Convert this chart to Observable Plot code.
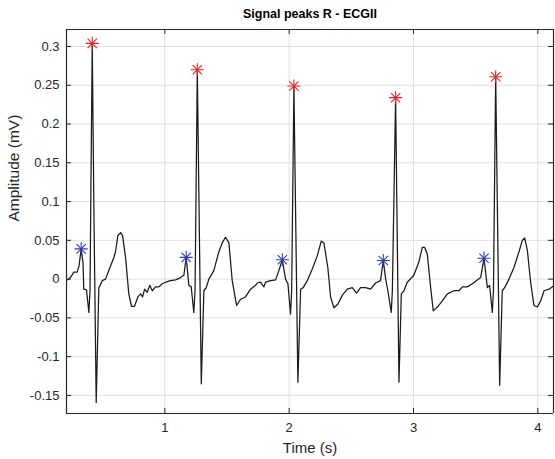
<!DOCTYPE html>
<html><head><meta charset="utf-8">
<script src="https://cdn.jsdelivr.net/npm/d3@7"></script>
<script src="https://cdn.jsdelivr.net/npm/@observablehq/plot@0.6"></script>
<style>html,body{margin:0;padding:0;background:#fff;overflow:hidden}#chart svg{display:block}</style>
</head><body><div id="chart"></div>
<script>
const title = "Signal peaks R - ECGII";
const xLabel = "Time (s)";
const yLabel = "Amplitude (mV)";
const xTicks = [1, 2, 3, 4];
const xTickLabels = ["1", "2", "3", "4"];
const yTicks = [-0.15, -0.1, -0.05, 0, 0.05, 0.1, 0.15, 0.2, 0.25, 0.3];
const yTickLabels = ["-0.15", "-0.1", "-0.05", "0", "0.05", "0.1", "0.15", "0.2", "0.25", "0.3"];
const xLimits = [0.209, 4.126];
const yLimits = [-0.1733, 0.3219];

const ecgTime = [
  0.215, 0.241, 0.268, 0.295, 0.310, 0.327, 0.342, 0.348, 0.370, 0.389, 0.398, 0.416, 0.430, 0.448, 0.469, 0.483, 0.496, 0.523, 0.549, 0.590, 0.603, 0.622, 0.644, 0.660, 0.684, 0.710, 0.732, 0.756, 0.783, 0.805, 0.821, 0.837, 0.858, 0.879, 0.899, 0.925, 0.952, 0.979, 1.006, 1.046, 1.086, 1.126, 1.153,
  1.172, 1.193, 1.212, 1.233, 1.243, 1.261, 1.293, 1.314, 1.333, 1.354, 1.394, 1.434, 1.462, 1.488, 1.515, 1.542, 1.577, 1.609, 1.649, 1.689, 1.730, 1.743, 1.770, 1.797, 1.810, 1.850, 1.891, 1.917,
  1.945, 1.971, 1.990, 2.011, 2.020, 2.038, 2.070, 2.092, 2.113, 2.146, 2.186, 2.226, 2.258, 2.279, 2.311, 2.333, 2.360, 2.392, 2.427, 2.467, 2.508, 2.542, 2.574, 2.615, 2.655, 2.695, 2.735,
  2.757, 2.776, 2.794, 2.821, 2.830, 2.856, 2.883, 2.902, 2.923, 2.950, 3.003, 3.043, 3.071, 3.089, 3.111, 3.138, 3.159, 3.192, 3.232, 3.272, 3.325, 3.365, 3.393, 3.433, 3.473, 3.513, 3.540,
  3.567, 3.594, 3.612, 3.634, 3.643, 3.661, 3.693, 3.714, 3.733, 3.768, 3.808, 3.848, 3.875, 3.894, 3.916, 3.942, 3.969, 3.996, 4.023, 4.050, 4.090, 4.126
];
const ecgAmp = [
  -0.001, 0.002, 0.009, 0.009, 0.017, 0.039, 0.021, -0.013, -0.014, -0.043, -0.015, 0.304, 0.080, -0.159, -0.011, -0.007, -0.002, 0.000, 0.011, 0.028, 0.035, 0.056, 0.060, 0.056, 0.028, -0.019, -0.035, -0.035, -0.023, -0.019, -0.023, -0.013, -0.017, -0.008, -0.015, -0.010, -0.010, -0.006, -0.004, -0.002, -0.001, 0.002, 0.005,
  0.028, -0.008, -0.010, -0.043, -0.015, 0.270, -0.135, -0.015, -0.011, 0.000, 0.011, 0.035, 0.047, 0.054, 0.047, -0.002, -0.034, -0.026, -0.023, -0.013, -0.008, -0.005, -0.004, -0.010, -0.004, -0.002, -0.001, 0.011,
  0.025, 0.000, -0.006, -0.045, -0.015, 0.249, -0.133, -0.013, -0.011, -0.002, 0.013, 0.030, 0.049, 0.047, 0.015, -0.023, -0.037, -0.032, -0.021, -0.013, -0.011, -0.018, -0.011, -0.011, -0.013, -0.005, -0.002,
  0.024, 0.000, -0.015, -0.043, -0.015, 0.234, -0.133, -0.019, -0.015, -0.004, 0.005, 0.022, 0.041, 0.041, 0.032, -0.011, -0.041, -0.036, -0.028, -0.019, -0.015, -0.015, -0.010, -0.010, -0.006, -0.001, 0.002,
  0.027, -0.011, -0.008, -0.043, -0.015, 0.261, -0.137, -0.015, -0.011, 0.000, 0.015, 0.035, 0.050, 0.053, 0.037, -0.004, -0.034, -0.036, -0.028, -0.015, -0.013, -0.009
];

const rTime = [0.416, 1.261, 2.038, 2.856, 3.661];
const rAmp = [0.304, 0.270, 0.249, 0.234, 0.261];
const pTime = [0.327, 1.172, 1.945, 2.757, 3.567];
const pAmp = [0.039, 0.028, 0.025, 0.024, 0.027];

const ecg = ecgTime.map((t, i) => ({t, v: ecgAmp[i]}));
const rPeaks = rTime.map((t, i) => ({t, v: rAmp[i]}));
const pPeaks = pTime.map((t, i) => ({t, v: pAmp[i]}));

const W = 555, H = 459, ML = 66, MR = 2, MT = 29, MB = 46;
const frameW = W - ML - MR, frameH = H - MT - MB;
const axisColor = "#262626";
const gridColor = "#dfdfdf";
const redC = "#f02020", blueC = "#2a3cb8";
const font = "'Liberation Sans', Arial, Helvetica, sans-serif";

const chart = Plot.plot({
  width: W, height: H,
  marginLeft: ML, marginRight: MR, marginTop: MT, marginBottom: MB,
  style: {fontFamily: font, fontSize: "13px", color: axisColor, background: "#fff"},
  x: {domain: xLimits},
  y: {domain: yLimits},
  marks: [
    Plot.gridX(xTicks, {stroke: gridColor, strokeOpacity: 1}),
    Plot.gridY(yTicks, {stroke: gridColor, strokeOpacity: 1}),
    Plot.tickX(xTicks, {x: d => d, insetTop: frameH - 5, stroke: axisColor}),
    Plot.tickX(xTicks, {x: d => d, insetBottom: frameH - 5, stroke: axisColor}),
    Plot.tickY(yTicks, {y: d => d, insetRight: frameW - 5, stroke: axisColor}),
    Plot.tickY(yTicks, {y: d => d, insetLeft: frameW - 5, stroke: axisColor}),
    Plot.axisX(xTicks, {tickSize: 0, tickPadding: 9, tickFormat: d => xTickLabels[xTicks.indexOf(d)], label: null, fontSize: 13, fill: axisColor}),
    Plot.axisY(yTicks, {tickSize: 0, tickPadding: 7, tickFormat: d => yTickLabels[yTicks.indexOf(d)], label: null, fontSize: 13, fill: axisColor}),
    Plot.line(ecg, {x: "t", y: "v", stroke: "#1a1a1a", strokeWidth: 1.25}),
    Plot.dot(rPeaks, {x: "t", y: "v", symbol: "plus", r: 4.3, stroke: redC, strokeWidth: 1.1}),
    Plot.dot(rPeaks, {x: "t", y: "v", symbol: "times", r: 4.3, stroke: redC, strokeWidth: 1.1}),
    Plot.dot(pPeaks, {x: "t", y: "v", symbol: "plus", r: 4.3, stroke: blueC, strokeWidth: 1.1}),
    Plot.dot(pPeaks, {x: "t", y: "v", symbol: "times", r: 4.3, stroke: blueC, strokeWidth: 1.1}),
    Plot.tickX(xLimits, {x: d => d, stroke: axisColor, strokeWidth: 1.2}),
    Plot.tickY(yLimits, {y: d => d, stroke: axisColor, strokeWidth: 1.2}),
    Plot.text([title], {frameAnchor: "top", dy: -16, lineAnchor: "middle", fontWeight: "bold", fontSize: 12.5, fill: "#000"}),
    Plot.text([xLabel], {frameAnchor: "bottom", dy: 29, lineAnchor: "top", fontSize: 15, fill: axisColor}),
    Plot.text([yLabel], {frameAnchor: "left", dx: -52, rotate: -90, lineAnchor: "middle", fontSize: 15.5, fill: axisColor})
  ]
});
document.getElementById("chart").appendChild(chart);
</script>
</body></html>
